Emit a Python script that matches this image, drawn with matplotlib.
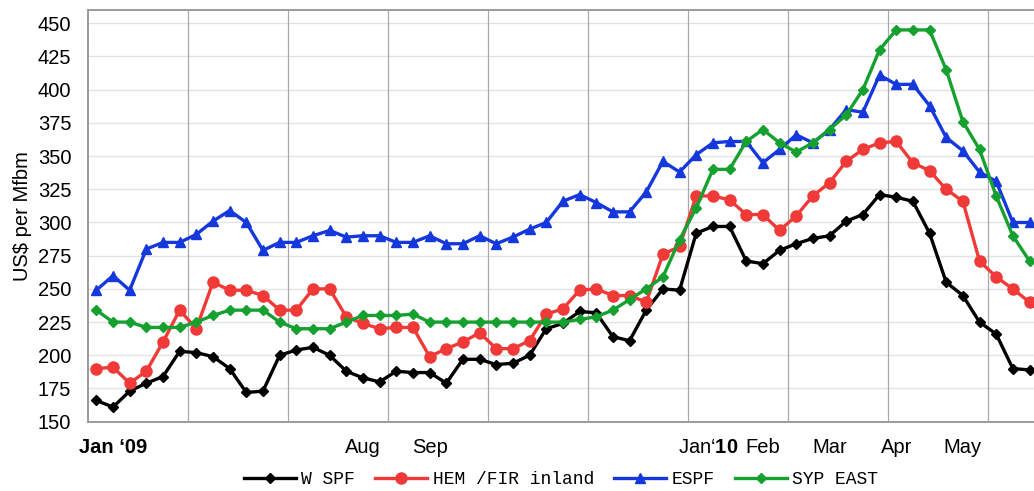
import numpy as np
import matplotlib
matplotlib.use("Agg")
import matplotlib.pyplot as plt

# --- Data (weekly prices, US$ per Mfbm) ---
wspf = [166, 161, 173, 179, 184, 203, 202, 199, 190, 172, 173, 200, 204, 206, 200, 188,
        183, 180, 188, 187, 187, 179, 197, 197, 193, 194, 200, 220,
        224, 233, 232, 214, 211, 234, 250, 249, 292, 297,
        297, 271, 269, 279, 284, 288, 290, 301, 306,
        321, 319, 316, 292, 255, 245, 225, 216, 190, 189]
hem_fir = [190, 191, 179, 188, 210, 234, 220, 255, 249, 249, 245, 234, 234, 250, 250, 229,
           224, 220, 221, 221, 199, 205, 210, 217, 205, 205, 211, 231,
           235, 249, 250, 245, 245, 240, 276, 282, 320, 320,
           317, 306, 306, 294, 305, 320, 330, 346, 355,
           360, 361, 345, 339, 325, 316, 271, 259, 250, 240]
espf = [249, 260, 249, 280, 285, 285, 291, 301, 309, 300, 279, 285, 285, 290, 294, 289,
        290, 290, 285, 285, 290, 284, 284, 290, 284, 289, 295, 300,
        316, 321, 315, 308, 308, 323, 346, 338, 351, 360,
        361, 361, 345, 355, 366, 360, 370, 385, 383,
        411, 404, 404, 388, 364, 354, 338, 331, 300, 300]
syp_east = [234, 225, 225, 221, 221, 221, 225, 230, 234, 234, 234, 225, 220, 220, 220, 225,
            230, 230, 230, 231, 225, 225, 225, 225, 225, 225, 225, 225,
            225, 227, 229, 234, 242, 250, 259, 287, 311, 340,
            340, 361, 370, 360, 353, 360, 370, 381, 400,
            430, 445, 445, 445, 415, 376, 355, 320, 290, 271]

series_names = ["W SPF", "HEM /FIR inland", "ESPF", "SYP EAST"]
month_pos = [1, 16, 20, 36.7, 40, 44, 48, 52]
month_labels = ["Jan \u201809", "Aug", "Sep", "Jan\u2018$\\mathbf{10}$", "Feb", "Mar", "Apr", "May"]
y_ticks = list(range(150, 451, 25))

plt.rcParams["font.family"] = ["Liberation Sans", "DejaVu Sans"]
plt.rcParams["mathtext.fontset"] = "custom"
plt.rcParams["mathtext.rm"] = "Liberation Sans"
plt.rcParams["mathtext.bf"] = "Liberation Sans:bold"

FS = 14.5


def main():
    fig = plt.figure(figsize=(10.34, 4.91), dpi=100)
    ax = fig.add_axes([88 / 1034, 69.3 / 491, 1 - 88 / 1034, 481 / 491 - 69.3 / 491])

    x = np.arange(len(wspf))
    styles = [
        (wspf, "#000000", "D", 5),
        (hem_fir, "#ef3a38", "o", 8),
        (espf, "#1438dc", "^", 7.5),
        (syp_east, "#16a030", "D", 5),
    ]
    for (vals, col, mk, ms), name in zip(styles, series_names):
        ax.plot(x, vals, color=col, marker=mk, markersize=ms, linewidth=2.4,
                label=name, zorder=3)

    ax.set_xlim(-0.5, 56.27)
    ax.set_ylim(150, 460)
    ax.set_yticks(y_ticks)
    ax.set_yticklabels([str(v) for v in y_ticks], fontsize=FS)
    ax.set_xticks(month_pos)
    ax.set_xticklabels(month_labels, fontsize=FS)
    ax.get_xticklabels()[0].set_fontweight("bold")
    ax.tick_params(axis="both", length=0)
    ax.tick_params(axis="x", pad=12)
    ax.tick_params(axis="y", pad=12)

    # gridlines: light horizontal, darker vertical every 6 weeks
    for v in y_ticks:
        ax.axhline(v, color="#e2e2e2", linewidth=1.0, zorder=1)
    for gx in np.arange(5.5, 56, 6):
        ax.axvline(gx, color="#a8a8a8", linewidth=0.9, zorder=1)

    for side in ["left", "top", "bottom"]:
        ax.spines[side].set_color("#9a9a9a")
        ax.spines[side].set_linewidth(1.4)
    ax.spines["right"].set_visible(False)

    ax.set_ylabel("US$ per Mfbm", fontsize=FS, labelpad=4)

    fig.legend(loc="center", bbox_to_anchor=(561 / 1034, 11 / 491), ncol=4,
               frameon=False, prop={"family": "Liberation Mono", "size": 13},
               handlelength=2.9, handletextpad=0.3, columnspacing=1.1,
               borderpad=0)

    fig.savefig("out.png", dpi=100)
    plt.close(fig)


if __name__ == "__main__":
    main()
